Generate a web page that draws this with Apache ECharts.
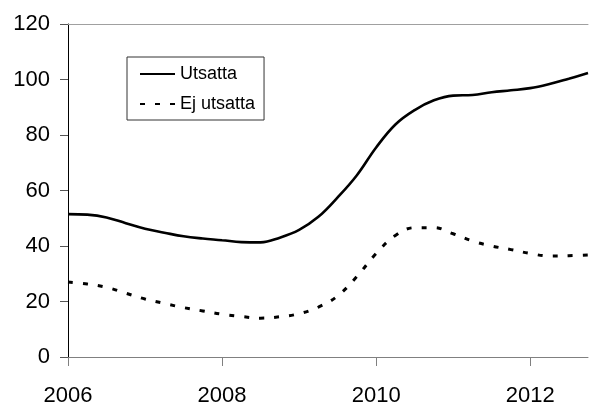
<!DOCTYPE html>
<html>
<head>
<meta charset="utf-8">
<script src="https://cdn.jsdelivr.net/npm/echarts@6/dist/echarts.min.js"></script>
<style>
html,body{margin:0;padding:0;background:#fff;}
#chart{width:590px;height:403px;}
</style>
</head>
<body>
<div id="chart"></div>
<script>
// Quarterly time points (years)
var times = [2006.00,2006.25,2006.50,2006.75,2007.00,2007.25,2007.50,2007.75,
             2008.00,2008.25,2008.50,2008.75,2009.00,2009.25,2009.50,2009.75,
             2010.00,2010.25,2010.50,2010.75,2011.00,2011.25,2011.50,2011.75,
             2012.00,2012.25,2012.50,2012.75];
var utsatta = [51.5,51.3,50.3,48.2,46.2,44.8,43.5,42.7,
               42.1,41.4,41.3,43.0,45.8,50.5,57.5,65.5,
               75.5,83.8,89.0,92.5,94.2,94.4,95.4,96.1,
               96.9,98.4,100.3,102.3];
var ejUtsatta = [27.0,26.3,25.1,23.0,20.9,19.3,17.8,16.6,
                 15.4,14.6,14.0,14.5,15.6,18.0,22.0,29.0,
                 37.3,43.8,46.6,46.6,44.4,41.8,40.0,38.7,
                 37.3,36.4,36.5,36.8];
var xTickLabels = [2006, 2008, 2010, 2012];
var seriesNames = ['Utsatta', 'Ej utsatta'];

function pairs(xs, ys){ return xs.map(function(x,i){ return [x, ys[i]]; }); }

var FONT = '"Liberation Sans", Arial, sans-serif';
var chart = echarts.init(document.getElementById('chart'), null, {renderer:'canvas'});
chart.setOption({
  animation: false,
  backgroundColor: '#fff',
  grid: {left: 68, top: 24, right: 2, bottom: 46, containLabel: false, outerBoundsMode: 'none'},
  legend: {
    left: 127, top: 57,
    orient: 'vertical',
    itemWidth: 35, itemHeight: 14, itemGap: 12,
    padding: [8, 9, 7, 12],
    borderColor: '#333', borderWidth: 1,
    backgroundColor: '#fff',
    itemStyle: {opacity: 0},
    textStyle: {fontFamily: FONT, fontSize: 18, color: '#000'},
    data: seriesNames
  },
  xAxis: [{
    type: 'value', min: 2006, max: 2012.75, interval: 2,
    axisLine: {show: true, lineStyle: {color: '#808080', width: 1}},
    axisTick: {show: true, inside: false, length: 9, customValues: xTickLabels, lineStyle: {color: '#808080'}},
    axisLabel: {customValues: xTickLabels, margin: 28, fontFamily: FONT, fontSize: 22, color: '#000',
                formatter: function(v){ return String(Math.round(v)); }},
    splitLine: {show: false}
  }, {
    type: 'value', position: 'top', min: 2006, max: 2012.75,
    axisLine: {show: true, lineStyle: {color: '#a0a0a0', width: 1}},
    axisTick: {show: false}, axisLabel: {show: false}, splitLine: {show: false}
  }],
  yAxis: {
    type: 'value', min: 0, max: 120, interval: 20,
    axisLine: {show: true, lineStyle: {color: '#000', width: 1}},
    axisTick: {show: true, inside: false, length: 8, lineStyle: {color: '#555'}},
    axisLabel: {margin: 18, fontFamily: FONT, fontSize: 22, color: '#000'},
    splitLine: {show: false}
  },
  series: [{
    name: seriesNames[0], type: 'line', smooth: 0.4, symbol: 'none',
    data: pairs(times, utsatta),
    lineStyle: {color: '#000', width: 2.6},
    itemStyle: {color: '#000'}
  }, {
    name: seriesNames[1], type: 'line', smooth: 0.4, symbol: 'none',
    data: pairs(times, ejUtsatta),
    lineStyle: {color: '#000', width: 3, type: [5, 10]},
    itemStyle: {color: '#000'}
  }]
});
</script>
</body>
</html>
